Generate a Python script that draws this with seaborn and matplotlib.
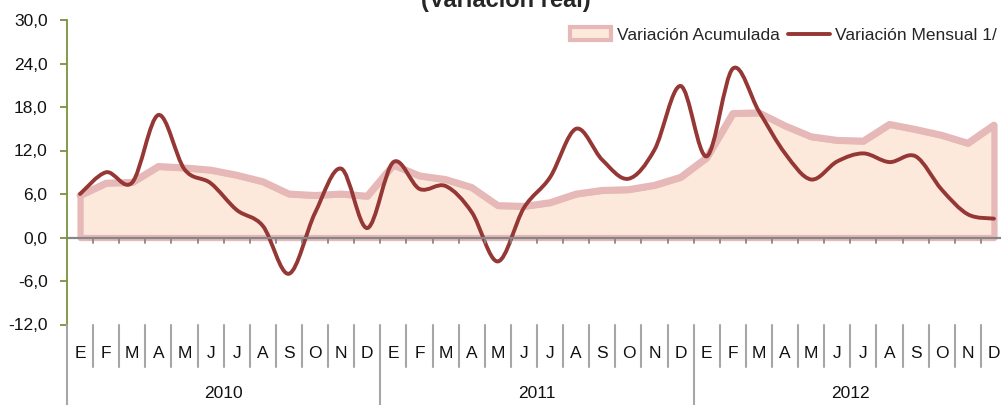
import numpy as np
import matplotlib
matplotlib.use("Agg")
import matplotlib.pyplot as plt
from matplotlib.path import Path
from matplotlib.patches import PathPatch, Patch
from matplotlib.lines import Line2D
import seaborn as sns

# datos (variacion real, %)
meses = ["E", "F", "M", "A", "M", "J", "J", "A", "S", "O", "N", "D"]
anios = ["2010", "2011", "2012"]
acumulada = [5.8, 7.5, 7.6, 9.8, 9.6, 9.3, 8.6, 7.7, 6.0, 5.8, 6.0, 5.7,
             10.0, 8.5, 8.0, 6.9, 4.4, 4.3, 4.8, 6.0, 6.5, 6.6, 7.2, 8.3,
             11.0, 17.1, 17.2, 15.4, 13.9, 13.4, 13.3, 15.6, 14.9, 14.1, 13.0, 15.5]
mensual = [6.0, 9.0, 7.6, 16.9, 9.4, 7.5, 3.8, 1.6, -5.0, 3.4, 9.5, 1.3,
           10.4, 6.7, 7.1, 3.5, -3.3, 4.1, 8.3, 15.0, 10.7, 8.1, 12.1, 20.9,
           11.2, 23.3, 17.4, 11.6, 8.0, 10.5, 11.6, 10.4, 11.2, 6.6, 3.2, 2.6]
yticks = [-12, -6, 0, 6, 12, 18, 24, 30]
ytick_labels = ["-12,0", "-6,0", "0,0", "6,0", "12,0", "18,0", "24,0", "30,0"]

c_fill = "#FDE9DB"
c_edge = "#E6B9B8"
c_line = "#953735"
c_sep = "#A6A6A6"
c_txt = "#111111"

sns.set_style("white")
plt.rcParams["font.family"] = ["Liberation Sans", "DejaVu Sans"]
fs = 12.5


def curva_suave(x, y):
    # linea suavizada estilo Excel (bezier cubica tipo Catmull-Rom)
    pts = np.column_stack([x, y]).astype(float)
    n = len(pts)
    verts = [pts[0]]
    codes = [Path.MOVETO]
    for i in range(n - 1):
        p0 = pts[max(i - 1, 0)]
        p1 = pts[i]
        p2 = pts[i + 1]
        p3 = pts[min(i + 2, n - 1)]
        c1 = p1 + (p2 - p0) / 6.0
        c2 = p2 - (p3 - p1) / 6.0
        verts += [c1, c2, p2]
        codes += [Path.CURVE4] * 3
    return Path(verts, codes)


W, H = 1001, 405
fig = plt.figure(figsize=(W / 100, H / 100), dpi=100)
left, right, top, bottom = 67, 1007, 20, 324.5
ax = fig.add_axes([left / W, 1 - bottom / H, (right - left) / W, (bottom - top) / H])

x = np.arange(len(mensual))
ax.fill_between(x, acumulada, 0, facecolor=c_fill, edgecolor=c_edge,
                linewidth=4.5, joinstyle="round", zorder=1)
sns.lineplot(x=x, y=acumulada, ax=ax, color=c_edge, linewidth=5, zorder=2)
ax.add_patch(PathPatch(curva_suave(x, mensual), facecolor="none",
                       edgecolor=c_line, linewidth=2.8, zorder=4,
                       capstyle="round"))

ax.set_xlim(-0.5, len(mensual) - 0.5)
ax.set_ylim(-12, 30)
ax.set_yticks(yticks)
ax.set_yticklabels(ytick_labels, fontsize=fs, color=c_txt)

# eje x en cero con marcas en los limites de categoria
ax.axhline(0, color="#868686", linewidth=1.6, zorder=5)
for k in range(1, len(mensual) + 1):
    ax.plot([k - 0.5, k - 0.5], [0, -0.7], color="#868686", linewidth=1.3,
            zorder=5, clip_on=False)
ax.set_xticks([])
for s in ["top", "right", "bottom"]:
    ax.spines[s].set_visible(False)
ax.spines["left"].set_color("#77933C")
ax.spines["left"].set_linewidth(1.3)
ax.tick_params(axis="y", left=True, length=5, width=1.3, color="#77933C", pad=9)

# etiquetas de categoria en dos niveles bajo el grafico
ax2 = fig.add_axes([left / W, 0, (right - left) / W, (H - bottom) / H])
ax2.set_xlim(-0.5, len(mensual) - 0.5)
ax2.set_ylim(H, bottom)
ax2.axis("off")
for k in range(len(mensual) + 1):
    y_fin = H if k % 12 == 0 else 367
    ax2.plot([k - 0.5, k - 0.5], [bottom, y_fin], color=c_sep, linewidth=1.5,
             clip_on=False)
for k in range(len(mensual)):
    ax2.text(k, 354, meses[k % 12], ha="center", va="center", fontsize=fs,
             color=c_txt)
for j, a in enumerate(anios):
    ax2.text(j * 12 + 5.5, 393, a, ha="center", va="center", fontsize=fs,
             color=c_txt)

# leyenda
handles = [Patch(facecolor=c_fill, edgecolor=c_edge, linewidth=3),
           Line2D([], [], color=c_line, linewidth=2.8)]
fig.legend(handles, ["Variación Acumulada", "Variación Mensual 1/"],
           loc="center right", bbox_to_anchor=(997 / W, 1 - 35 / H),
           ncol=2, frameon=False, fontsize=fs, handlelength=2.4,
           handletextpad=0.3, columnspacing=0.5, borderpad=0, borderaxespad=0)

fig.text(506 / W, 1 - 7 / H, "(Variación real)", ha="center", va="baseline",
         fontsize=17, fontweight="bold")

fig.savefig("out.png", dpi=100)
